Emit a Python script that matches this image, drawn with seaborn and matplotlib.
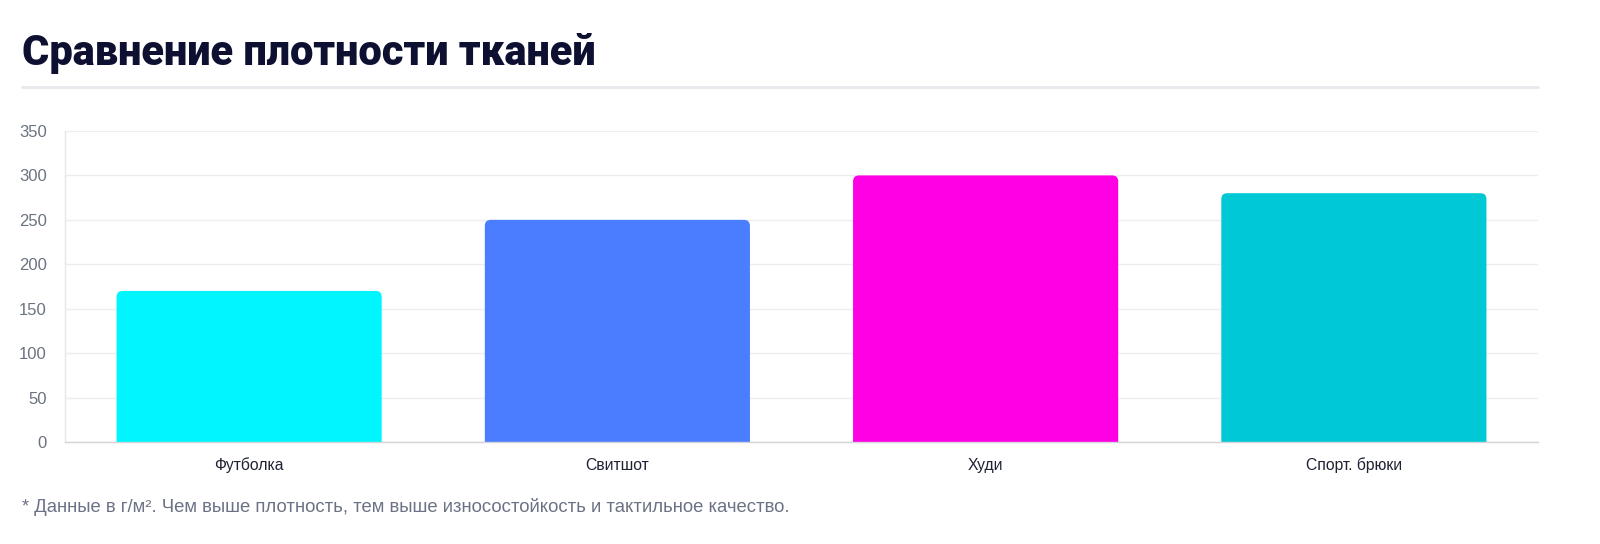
import matplotlib
matplotlib.use("Agg")
import matplotlib.pyplot as plt
from matplotlib.patches import FancyBboxPatch
import pandas as pd
import seaborn as sns

# Data
categories = ["Футболка", "Свитшот", "Худи", "Спорт. брюки"]
density = [170, 250, 300, 280]
bar_colors = ["#00f5ff", "#4a7dff", "#ff00e5", "#00c8d4"]
y_ticks = [0, 50, 100, 150, 200, 250, 300, 350]

title_text = "Сравнение плотности тканей"
note_text = "* Данные в г/м². Чем выше плотность, тем выше износостойкость и тактильное качество."

df = pd.DataFrame({"item": categories, "value": density})

sns.set_theme(style="white")
plt.rcParams["font.family"] = ["Liberation Sans", "DejaVu Sans"]

W, H = 1600, 544
fig = plt.figure(figsize=(W / 100, H / 100), dpi=100)
ax = fig.add_axes([65 / W, 1 - 442 / H, (1538 - 65) / W, (442 - 131) / H])

sns.barplot(data=df, x="item", y="value", hue="item", palette=bar_colors,
            legend=False, width=0.72, ax=ax, saturation=1)

ax.set_ylim(0, 350)
ax.set_xlim(-0.5, len(categories) - 0.5)
ax.set_yticks(y_ticks)
ax.set_xlabel("")
ax.set_ylabel("")

# Swap bars for top-rounded ones
fig.canvas.draw()
px_x = ax.transData.transform((1, 0))[0] - ax.transData.transform((0, 0))[0]
px_y = ax.transData.transform((0, 1))[1] - ax.transData.transform((0, 0))[1]
r_px = 6
for p in list(ax.patches):
    x0, w, h = p.get_x(), p.get_width(), p.get_height()
    col = p.get_facecolor()
    p.remove()
    pad_below = r_px / px_y * 2
    fb = FancyBboxPatch((x0, -pad_below), w, h + pad_below,
                        boxstyle=f"round,pad=0,rounding_size={r_px / px_x}",
                        mutation_aspect=px_x / px_y,
                        facecolor=col, edgecolor="none", clip_on=True)
    ax.add_patch(fb)

# Grid and spines
ax.grid(axis="y", color="#ededed", linewidth=1)
ax.set_axisbelow(True)
for s in ["top", "right"]:
    ax.spines[s].set_visible(False)
ax.spines["left"].set_color("#e6e6e6")
ax.spines["bottom"].set_color("#d4d4d8")
ax.spines["left"].set_linewidth(1)
ax.spines["bottom"].set_linewidth(1)
ax.tick_params(axis="y", length=9, color="#ededed", labelsize=12, labelcolor="#6b7280", pad=4)
ax.tick_params(axis="x", length=0, labelsize=11.3, labelcolor="#1f2233", pad=20)
for lbl in ax.get_xticklabels():
    lbl.set_verticalalignment("baseline")

# Title, rule and footnote
fig.text(22 / W, 1 - 53 / H, title_text, fontsize=30, fontweight="black",
         family=["Roboto", "DejaVu Sans"], color="#0d1030", va="center", ha="left")
fig.add_artist(plt.Line2D([22 / W, 1538 / W], [1 - 87 / H, 1 - 87 / H],
                          color="#e8e8ec", linewidth=2))
fig.text(22 / W, 1 - 507 / H, note_text, fontsize=13.3, color="#6b7285",
         va="center", ha="left")

fig.savefig("out.png", dpi=100)
